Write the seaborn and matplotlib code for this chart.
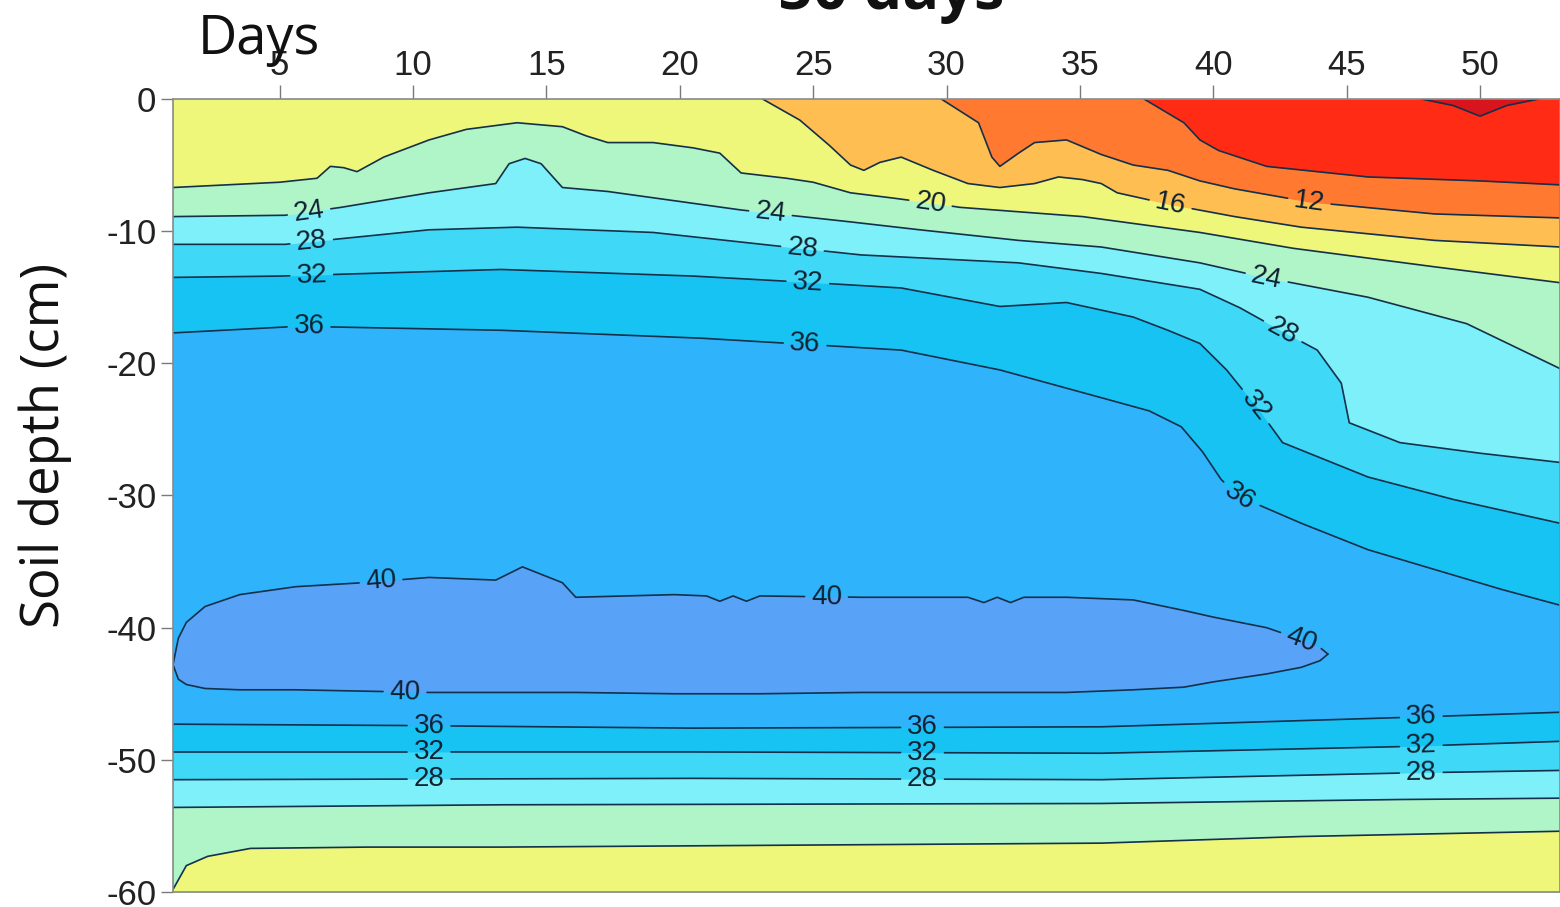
import numpy as np
import matplotlib.pyplot as plt
import seaborn as sns

# isoline depths (cm), x = day
iso4_x = [47.8, 49.0, 50.0, 51.0, 52.2]
iso4_y = [0.0, -0.5, -1.3, -0.5, 0.0]

iso8_x = [37.4, 38.9, 39.5, 40.2, 42.0, 45.8, 50.0, 53.0]
iso8_y = [0.0, -1.8, -3.1, -3.9, -5.1, -5.9, -6.2, -6.5]

iso12_x = [29.8, 31.2, 31.7, 32.0, 32.7, 33.3, 34.5, 35.8, 37.0, 38.3, 39.5, 40.8, 43.6, 48.3, 53.0]
iso12_y = [0.0, -1.8, -4.4, -5.1, -4.1, -3.3, -3.1, -4.2, -5.0, -5.4, -6.2, -6.8, -7.8, -8.7, -9.0]

iso16_x = [23.1, 24.5, 25.6, 26.4, 26.9, 27.5, 28.3, 29.5, 30.8, 32.0, 33.3, 34.2, 35.1, 35.8,
           36.4, 38.4, 40.8, 43.3, 48.3, 53.0]
iso16_y = [0.0, -1.6, -3.5, -5.0, -5.4, -4.8, -4.4, -5.4, -6.4, -6.7, -6.4, -5.9, -6.1, -6.4,
           -7.1, -8.0, -8.9, -9.7, -10.7, -11.2]

iso20_top_x = [1.0, 3.0, 5.0, 6.4, 6.9, 7.4, 7.9, 8.9, 10.6, 12.0, 13.9, 15.6, 16.5, 17.3, 19.0,
               20.5, 21.5, 22.3, 24.0, 25.0, 26.4, 28.0, 29.5, 30.5, 35.1, 39.5, 43.0, 48.3, 53.0]
iso20_top_y = [-6.7, -6.5, -6.3, -6.0, -5.1, -5.2, -5.5, -4.4, -3.1, -2.3, -1.8, -2.1, -2.8, -3.3, -3.3,
               -3.7, -4.1, -5.6, -6.0, -6.3, -7.1, -7.5, -7.9, -8.2, -8.9, -10.1, -11.3, -12.7, -13.9]

iso24_top_x = [1.0, 5.2, 7.3, 10.6, 13.1, 13.6, 14.2, 14.8, 15.6, 17.3, 22.3, 26.4, 29.0, 32.7,
               35.8, 39.5, 41.9, 45.8, 49.5, 53.0]
iso24_top_y = [-8.9, -8.8, -8.2, -7.1, -6.4, -4.9, -4.5, -4.9, -6.7, -7.0, -8.4, -9.3, -9.9, -10.7,
               -11.2, -12.4, -13.5, -15.0, -17.0, -20.4]

iso28_top_x = [1.0, 5.2, 10.6, 13.9, 19.0, 24.0, 26.8, 32.7, 35.8, 39.5, 41.0, 42.6, 43.9, 44.8,
               45.1, 47.0, 50.0, 53.0]
iso28_top_y = [-11.0, -11.0, -9.9, -9.7, -10.1, -11.2, -11.8, -12.4, -13.2, -14.4, -15.8, -17.6,
               -19.0, -21.5, -24.5, -26.0, -26.8, -27.5]

iso32_top_x = [1.0, 5.0, 13.3, 20.5, 25.0, 28.3, 32.0, 34.5, 37.0, 38.3, 39.5, 40.5, 41.7, 42.6,
               45.8, 49.0, 53.0]
iso32_top_y = [-13.5, -13.4, -12.9, -13.4, -13.9, -14.3, -15.7, -15.4, -16.5, -17.5, -18.5, -20.5,
               -23.5, -26.0, -28.6, -30.3, -32.1]

iso36_top_x = [1.0, 5.7, 13.3, 20.8, 25.0, 28.3, 32.0, 35.8, 37.6, 38.8, 39.6, 40.3, 41.0, 43.3,
               45.8, 50.8, 53.0]
iso36_top_y = [-17.7, -17.2, -17.5, -18.1, -18.6, -19.0, -20.5, -22.6, -23.6, -24.8, -26.7, -28.8,
               -30.1, -32.1, -34.1, -37.1, -38.3]

iso40_x = [1.0, 1.2, 1.5, 2.2, 3.5, 5.6, 8.1, 10.6, 13.1, 14.1, 15.6, 16.1, 19.8, 21.0, 21.5,
           22.0, 22.5, 23.0, 26.8, 30.8, 31.4, 31.9, 32.4, 32.9, 34.5, 37.0, 38.9, 40.0, 42.0,
           43.3, 44.0, 44.3]
iso40_upper = [-42.8, -40.8, -39.6, -38.4, -37.5, -36.9, -36.6, -36.2, -36.4, -35.4, -36.6, -37.7,
               -37.5, -37.6, -38.0, -37.6, -38.0, -37.6, -37.7, -37.7, -38.1, -37.7, -38.1, -37.7,
               -37.7, -37.9, -38.7, -39.2, -40.0, -40.9, -41.5, -42.0]
iso40_lower = [-42.8, -43.9, -44.3, -44.6, -44.7, -44.7, -44.8, -44.9, -44.9, -44.9, -44.9, -44.9,
               -45.0, -45.0, -45.0, -45.0, -45.0, -45.0, -44.9, -44.9, -44.9, -44.9, -44.9, -44.9,
               -44.9, -44.7, -44.5, -44.1, -43.5, -43.0, -42.5, -42.0]

iso36_low_x = [1.0, 9.5, 20.5, 35.8, 47.0, 53.0]
iso36_low_y = [-47.3, -47.4, -47.6, -47.5, -46.8, -46.4]
iso32_low_x = [1.0, 20.5, 35.8, 47.0, 53.0]
iso32_low_y = [-49.4, -49.4, -49.5, -49.0, -48.6]
iso28_low_x = [1.0, 20.5, 35.8, 47.0, 53.0]
iso28_low_y = [-51.5, -51.4, -51.5, -51.0, -50.8]
iso24_low_x = [1.0, 13.3, 35.8, 47.0, 53.0]
iso24_low_y = [-53.6, -53.4, -53.3, -53.0, -52.9]
iso20_low_x = [1.0, 1.5, 2.3, 3.9, 8.3, 13.3, 35.8, 43.3, 53.0]
iso20_low_y = [-59.8, -58.0, -57.3, -56.7, -56.6, -56.6, -56.3, -55.8, -55.4]

# days at which each contour carries its value label
lab_top24 = [6.1, 23.4, 42.0]
lab_top28 = [6.2, 24.6, 42.6]
lab_top32 = [6.2, 24.8, 41.6]
lab_top36 = [6.1, 24.7, 41.0]
lab_top20 = [29.4]
lab_16 = [38.4]
lab_12 = [43.6]
lab_40_upper = [8.8, 25.5, 43.3]
lab_40_lower = [9.7]
lab_low = [10.6, 29.1, 47.8]

C = {
    '<4': '#d8141c', '4-8': '#ff2b14', '8-12': '#ff7a30', '12-16': '#ffbe52',
    '16-20': '#eef77a', '20-24': '#b0f5c8', '24-28': '#7ef0f9', '28-32': '#40d8f7',
    '32-36': '#16c3f2', '36-40': '#2fb3fb', '>40': '#58a2f8',
}
LINE_C = '#14304a'
LABEL_C = '#0e2233'

sns.set_theme(style='white')
plt.rcParams['font.family'] = ['Liberation Sans', 'DejaVu Sans']
plt.rcParams['axes.unicode_minus'] = False

fig = plt.figure(figsize=(15.6, 9.07), dpi=100)
ax = fig.add_axes([0.1109, 0.0165, 0.8891, 0.8744])
ax.set_xlim(1, 53)
ax.set_ylim(-60, 0)
ax.set_facecolor(C['36-40'])

# upper bands, painted deepest first
for xs, ys, key in [(iso36_top_x, iso36_top_y, '32-36'), (iso32_top_x, iso32_top_y, '28-32'),
                    (iso28_top_x, iso28_top_y, '24-28'), (iso24_top_x, iso24_top_y, '20-24'),
                    (iso20_top_x, iso20_top_y, '16-20'), (iso16_x, iso16_y, '12-16'),
                    (iso12_x, iso12_y, '8-12'), (iso8_x, iso8_y, '4-8'), (iso4_x, iso4_y, '<4')]:
    ax.fill_between(xs, 0, ys, color=C[key], lw=0, zorder=1)

# lower bands
for xs, ys, key in [(iso36_low_x, iso36_low_y, '32-36'), (iso32_low_x, iso32_low_y, '28-32'),
                    (iso28_low_x, iso28_low_y, '24-28'), (iso24_low_x, iso24_low_y, '20-24'),
                    (iso20_low_x, iso20_low_y, '16-20')]:
    ax.fill_between(xs, ys, -60, color=C[key], lw=0, zorder=1)

ax.fill_between(iso40_x, iso40_upper, iso40_lower, color=C['>40'], lw=0, zorder=1)


def draw_iso(xs, ys, label_days=(), text=''):
    xs = np.asarray(xs, float)
    ys = np.asarray(ys, float)
    pts = ax.transData.transform(np.column_stack([xs, ys]))
    s = np.concatenate([[0], np.cumsum(np.hypot(*np.diff(pts, axis=0).T))])
    inv = ax.transData.inverted()
    gaps = []
    for lx in label_days:
        s0 = np.interp(lx, xs, s)
        p1 = (np.interp(s0 - 12, s, pts[:, 0]), np.interp(s0 - 12, s, pts[:, 1]))
        p2 = (np.interp(s0 + 12, s, pts[:, 0]), np.interp(s0 + 12, s, pts[:, 1]))
        ang = np.degrees(np.arctan2(p2[1] - p1[1], p2[0] - p1[0]))
        if ang > 90:
            ang -= 180
        elif ang < -90:
            ang += 180
        x0, y0 = inv.transform((np.interp(s0, s, pts[:, 0]), np.interp(s0, s, pts[:, 1])))
        ax.text(x0, y0, text, rotation=ang, rotation_mode='anchor', ha='center',
                va='center', fontsize=20, color=LABEL_C, zorder=3)
        gaps.append((s0 - 22, s0 + 22))
    bounds = [0.0]
    for a, b in sorted(gaps):
        bounds += [a, b]
    bounds.append(s[-1])
    for a, b in zip(bounds[::2], bounds[1::2]):
        a, b = max(a, 0), min(b, s[-1])
        if b <= a:
            continue
        ss = np.concatenate([[a], s[(s > a) & (s < b)], [b]])
        d = inv.transform(np.column_stack([np.interp(ss, s, pts[:, 0]),
                                           np.interp(ss, s, pts[:, 1])]))
        ax.plot(d[:, 0], d[:, 1], color=LINE_C, lw=1.2, zorder=2)


draw_iso(iso4_x, iso4_y)
draw_iso(iso8_x, iso8_y)
draw_iso(iso12_x, iso12_y, lab_12, '12')
draw_iso(iso16_x, iso16_y, lab_16, '16')
draw_iso(iso20_top_x, iso20_top_y, lab_top20, '20')
draw_iso(iso24_top_x, iso24_top_y, lab_top24, '24')
draw_iso(iso28_top_x, iso28_top_y, lab_top28, '28')
draw_iso(iso32_top_x, iso32_top_y, lab_top32, '32')
draw_iso(iso36_top_x, iso36_top_y, lab_top36, '36')
draw_iso(iso40_x, iso40_upper, lab_40_upper, '40')
draw_iso(iso40_x, iso40_lower, lab_40_lower, '40')
draw_iso(iso36_low_x, iso36_low_y, lab_low, '36')
draw_iso(iso32_low_x, iso32_low_y, lab_low, '32')
draw_iso(iso28_low_x, iso28_low_y, lab_low, '28')
draw_iso(iso24_low_x, iso24_low_y)
draw_iso(iso20_low_x, iso20_low_y)

ax.xaxis.tick_top()
ax.set_xticks(range(5, 51, 5))
ax.set_yticks(range(-60, 1, 10))
ax.set_yticklabels([str(v) for v in range(-60, 1, 10)])
ax.tick_params(axis='x', which='major', direction='out', length=10, width=1,
               color='#7a7a7a', pad=2, labelsize=25, labelcolor='#222222', top=True, bottom=False)
ax.tick_params(axis='y', which='major', direction='out', length=9, width=1,
               color='#7a7a7a', pad=3, labelsize=25, labelcolor='#222222', left=True)
for lbl in ax.get_yticklabels():
    lbl.set_va('center_baseline')
for sp in ax.spines.values():
    sp.set_color('#8a8a8a')
    sp.set_linewidth(1.2)

fig.text(0.127, 0.956, 'Days', fontsize=39, family='Open Sans', ha='left', va='center',
         color='#111111')
fig.text(0.029, 0.509, 'Soil depth (cm)', fontsize=38, family='Open Sans', rotation=90,
         ha='center', va='center', color='#111111')
fig.text(0.571, 0.99, '50 days', fontsize=44, family='Open Sans', fontweight='bold',
         ha='center', va='baseline', color='#111111')

fig.savefig('out.png', dpi=100)
